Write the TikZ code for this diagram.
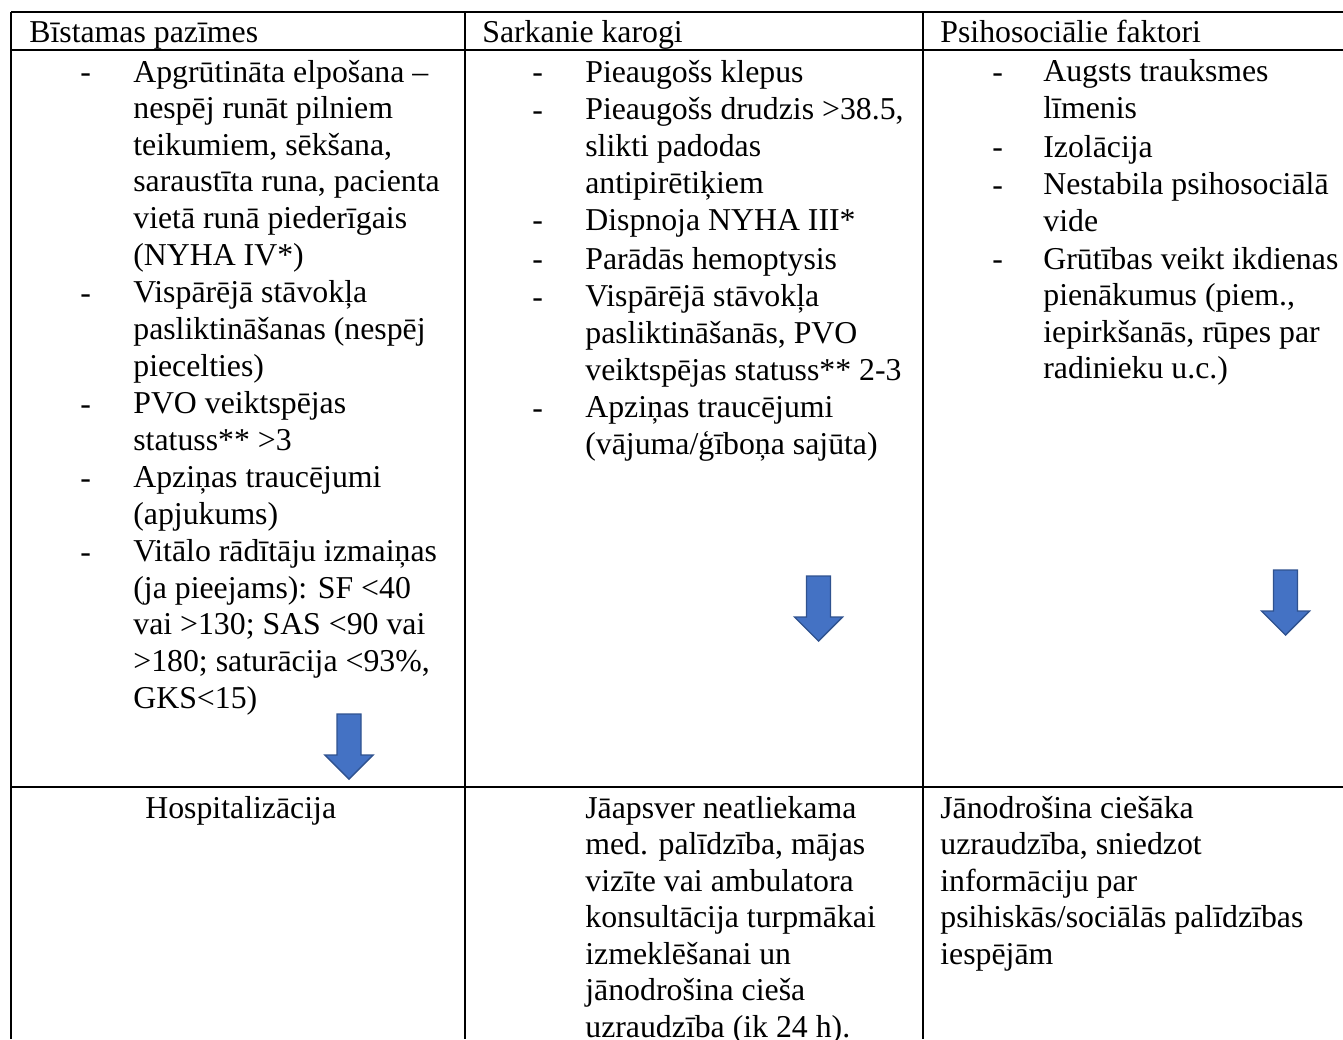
\documentclass[tikz,border=0pt]{standalone}
\usepackage{fontspec}
\setmainfont{Liberation Serif}
\usepackage{xcolor}
\usepackage{tikz}
\usetikzlibrary{positioning}

\definecolor{flechaazul}{RGB}{68,114,196}
\definecolor{flechaborde}{RGB}{47,82,143}

\tikzset{
  celda/.style={anchor=base west, inner sep=0pt, align=left, font=\fontsize{18.1}{20.8}\selectfont},
  guion/.style={anchor=base west, inner sep=0pt, font=\fontsize{18.1}{20.8}\selectfont},
  rejilla/.style={line width=0.9pt},
  flecha/.style={fill=flechaazul, draw=flechaborde, line width=0.8pt, line join=miter}
}

% flecha gruesa hacia abajo, desde el centro de arriba
\newcommand{\flechabajo}[1]{\draw[flecha] (#1) ++(-12,0) -- ++(24,0) -- ++(0,41) -- ++(12,0) -- ++(-24,24) -- ++(-24,-24) -- ++(12,0) -- cycle;}

\begin{document}
\begin{tikzpicture}[x=0.02cm, y=-0.02cm]
  \useasboundingbox (0,0) rectangle (1343,1039);

  % Rejilla de la tabla
  \draw[rejilla] (11,12) -- (1343,12);
  \draw[rejilla] (11,50) -- (1343,50);
  \draw[rejilla] (11,787) -- (1343,787);
  \draw[rejilla] (11,12) -- (11,1039);
  \draw[rejilla] (465,12) -- (465,1039);
  \draw[rejilla] (923,12) -- (923,1039);

  % Cabecera
  \node[celda] (bist) at (29,42) {Bīstamas pazīmes};
  \node[celda] (sark) at (482,42) {Sarkanie karogi};
  \node[celda] (psih) at (940,42) {Psihosociālie faktori};

  % Columna 1 (el nodo va en la linea base de su ultima linea)
  \node[guion] (g11) at (80,82) {-};
  \node[celda] (b1) at (133,265) {Apgrūtināta elpošana –\\nespēj runāt pilniem\\teikumiem, sēkšana,\\saraustīta runa, pacienta\\vietā runā piederīgais\\(NYHA IV*)};
  \node[guion] (g12) at (80,303) {-};
  \node[celda] (b2) at (133,376) {Vispārējā stāvokļa\\pasliktināšanas (nespēj\\piecelties)};
  \node[guion] (g13) at (80,414) {-};
  \node[celda] (b3) at (133,450.5) {PVO veiktspējas\\statuss** >3};
  \node[guion] (g14) at (80,488) {-};
  \node[celda] (b4) at (133,524.5) {Apziņas traucējumi\\(apjukums)};
  \node[guion] (g15) at (80,562) {-};
  \node[celda] (b5) at (133,708) {Vitālo rādītāju izmaiņas\\(ja pieejams): SF <40\\vai >130; SAS <90 vai\\>180; saturācija <93\%,\\GKS<15)};

  % Columna 2
  \node[guion] (g21) at (532,82) {-};
  \node[celda] (s1) at (585,82) {Pieaugošs klepus};
  \node[guion] (g22) at (532,120) {-};
  \node[celda] (s2) at (585,193) {Pieaugošs drudzis >38.5,\\slikti padodas\\antipirētiķiem};
  \node[guion] (g23) at (532,230) {-};
  \node[celda] (s3) at (585,230) {Dispnoja NYHA III*};
  \node[guion] (g24) at (532,269) {-};
  \node[celda] (s4) at (585,269) {Parādās hemoptysis};
  \node[guion] (g25) at (532,307) {-};
  \node[celda] (s5) at (585,380) {Vispārējā stāvokļa\\pasliktināšanās, PVO\\veiktspējas statuss** 2-3};
  \node[guion] (g26) at (532,418) {-};
  \node[celda] (s6) at (585,454.5) {Apziņas traucējumi\\(vājuma/ģīboņa sajūta)};

  % Columna 3
  \node[guion] (g31) at (992,82) {-};
  \node[celda] (p1) at (1043,118.5) {Augsts trauksmes\\līmenis};
  \node[guion] (g32) at (992,157) {-};
  \node[celda] (p2) at (1043,157) {Izolācija};
  \node[guion] (g33) at (992,195) {-};
  \node[celda] (p3) at (1043,231.5) {Nestabila psihosociālā\\vide};
  \node[guion] (g34) at (992,269) {-};
  \node[celda] (p4) at (1043,378.7) {Grūtības veikt ikdienas\\pienākumus (piem.,\\iepirkšanās, rūpes par\\radinieku u.c.)};

  % Flechas
  \coordinate (fl1) at (349,714);
  \coordinate (fl2) at (818.5,576);
  \coordinate (fl3) at (1285.5,570);
  \flechabajo{fl1}
  \flechabajo{fl2}
  \flechabajo{fl3}

  % Fila de abajo
  \node[celda] (hosp) at (145,818) {Hospitalizācija};
  \node[celda] (jaap) at (585,1037.3) {Jāapsver neatliekama\\med. palīdzība, mājas\\vizīte vai ambulatora\\konsultācija turpmākai\\izmeklēšanai un\\jānodrošina cieša\\uzraudzība (ik 24 h).};
  \node[celda] (janod) at (940,964.2) {Jānodrošina ciešāka\\uzraudzība, sniedzot\\informāciju par\\psihiskās/sociālās palīdzības\\iespējām};
\end{tikzpicture}
\end{document}
